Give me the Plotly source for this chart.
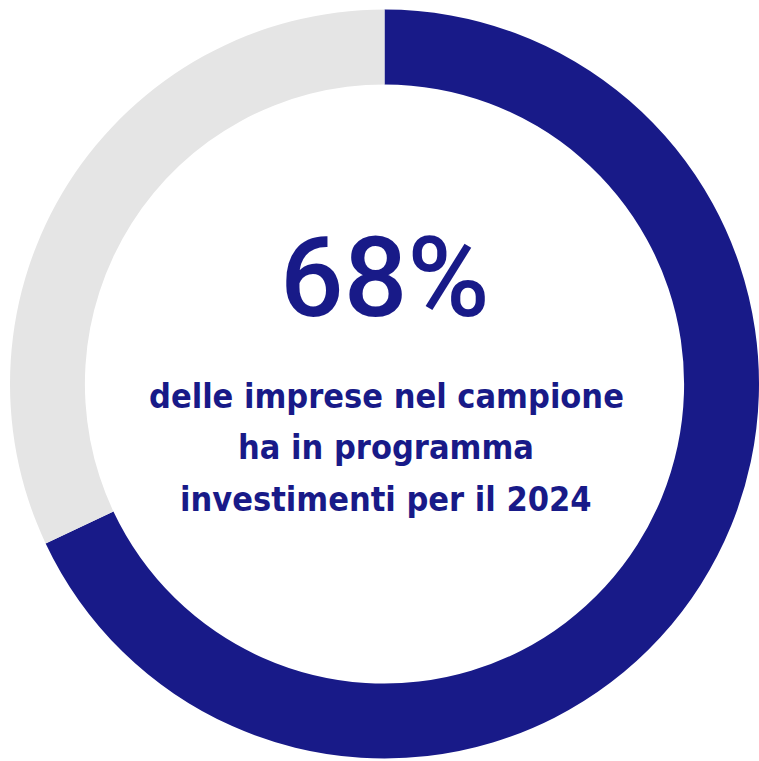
import plotly.graph_objects as go

# Share of firms planning investments in 2024
labels = ["Con investimenti in programma", "Altre imprese"]
values = [68, 32]
colors = ["#181a88", "#e5e5e5"]

headline = "68%"
caption_lines = ["delle imprese nel campione", "ha in programma", "investimenti per il 2024"]

W, H = 759, 761
NAVY = "#181a88"

fig = go.Figure(
    go.Pie(
        labels=labels,
        values=values,
        hole=0.8,
        sort=False,
        direction="clockwise",
        rotation=0,
        marker=dict(colors=colors, line=dict(width=0)),
        textinfo="none",
        hoverinfo="label+percent",
        showlegend=False,
        domain=dict(x=[10 / W, 1.0], y=[(H - 758.5) / H, (H - 9.5) / H]),
    )
)

fig.add_annotation(
    text=headline,
    x=385 / W, y=1 - 277 / H, xref="paper", yref="paper",
    xanchor="center", yanchor="middle", showarrow=False,
    font=dict(family="Roboto, Lato, sans-serif", size=112, color=NAVY, weight=500),
)

# caption: one annotation per line to control the line spacing
line_centres = [396, 447, 499]
for line, yc in zip(caption_lines, line_centres):
    fig.add_annotation(
        text=line,
        x=386 / W, y=1 - yc / H, xref="paper", yref="paper",
        xanchor="center", yanchor="middle", showarrow=False,
        font=dict(family="DejaVu Sans Condensed, sans-serif",
                  size=34, color=NAVY, weight="bold"),
    )

fig.update_layout(
    width=W, height=H, autosize=False,
    margin=dict(l=0, r=0, t=0, b=0),
    paper_bgcolor="white", plot_bgcolor="white",
)

fig.write_html("out.html")
